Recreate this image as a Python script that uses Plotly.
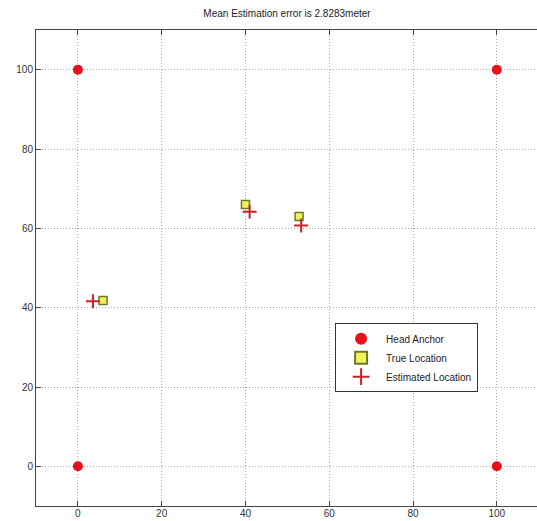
import plotly.graph_objects as go

anchor_x = [0, 0, 100, 100]
anchor_y = [0, 100, 0, 100]
true_x = [6, 40, 52.8]
true_y = [41.8, 66, 63]
est_x = [3.6, 41, 53.3]
est_y = [41.6, 64.2, 60.7]
tick_vals = [0, 20, 40, 60, 80, 100]
title_text = "Mean Estimation error is 2.8283meter"

font_fam = "Liberation Sans, Arial, sans-serif"

W, H = 537, 521

fig = go.Figure()
fig.add_trace(go.Scatter(x=anchor_x, y=anchor_y, mode="markers", name="Head Anchor",
                         marker=dict(symbol="circle", size=10, color="#e8101a",
                                     line=dict(width=0))))
fig.add_trace(go.Scatter(x=true_x, y=true_y, mode="markers", name="True Location",
                         marker=dict(symbol="square", size=8, color="#f2f25a",
                                     line=dict(width=1.5, color="#6b7a2a"))))
fig.add_trace(go.Scatter(x=est_x, y=est_y, mode="markers", name="Estimated Location",
                         marker=dict(symbol="cross-thin", size=10,
                                     line=dict(width=2, color="#c8202a"))))

fig.update_layout(
    width=W, height=H,
    margin=dict(l=36, r=0, t=30, b=15),
    paper_bgcolor="white", plot_bgcolor="white",
    font=dict(family=font_fam, size=11, color="#333333"),
    title=dict(text=title_text, x=(287 / W), xanchor="center", y=1 - 13 / H, yanchor="middle",
               font=dict(family=font_fam, size=10, color="#222222")),
    showlegend=True,
    legend=dict(x=0.597, y=0.384, xanchor="left", yanchor="top",
                bgcolor="white", bordercolor="#333333", borderwidth=1,
                font=dict(family=font_fam, size=10, color="#222222"),
                itemsizing="constant", itemwidth=40),
)
fig.update_xaxes(range=[-10, 109.6], tickvals=tick_vals, showgrid=True,
                 gridcolor="#a8a8a8", griddash="1px,2px", gridwidth=1,
                 showline=True, linecolor="#444444", linewidth=1, mirror="ticks",
                 ticks="inside", ticklen=5, tickcolor="#444444",
                 tickfont=dict(size=10), ticklabelstandoff=-2,
                 zeroline=False, automargin=False)
fig.update_yaxes(range=[-10, 110], tickvals=tick_vals, showgrid=True,
                 gridcolor="#a8a8a8", griddash="1px,2px", gridwidth=1,
                 showline=True, linecolor="#444444", linewidth=1, mirror=False,
                 ticks="inside", ticklen=5, tickcolor="#444444",
                 tickfont=dict(size=10),
                 zeroline=False, automargin=False)

fig.write_html("out.html", config={"displayModeBar": False},
               post_script="document.body.style.margin='0';")
